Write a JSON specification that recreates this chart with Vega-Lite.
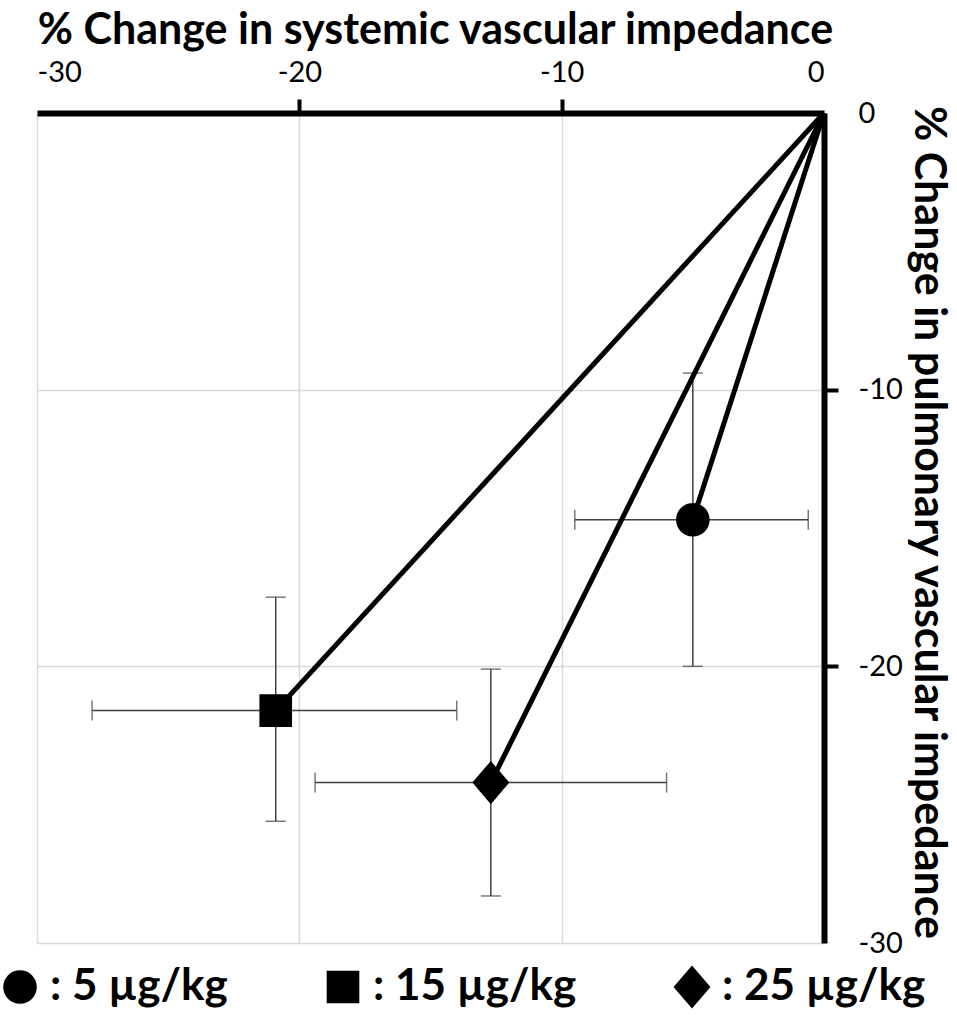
{
  "$schema": "https://vega.github.io/schema/vega-lite/v6.json",
  "width": 787,
  "height": 830,
  "autosize": {"type": "none"},
  "padding": {"left": 37, "top": 113, "right": 133, "bottom": 73},
  "background": "white",
  "datasets": {
    "points": [
      {"dose": "5 µg/kg", "x": -5.0, "y": -14.7, "xlo": -9.5, "xhi": -0.6, "ylo": -20.0, "yhi": -9.4},
      {"dose": "15 µg/kg", "x": -20.9, "y": -21.6, "xlo": -27.9, "xhi": -14.0, "ylo": -25.6, "yhi": -17.5},
      {"dose": "25 µg/kg", "x": -12.7, "y": -24.2, "xlo": -19.4, "xhi": -6.0, "ylo": -28.3, "yhi": -20.1}
    ]
  },
  "data": {"name": "points"},
  "layer": [
    {
      "mark": {"type": "errorbar", "ticks": {"size": 20, "thickness": 1.5, "color": "#404040"}, "rule": {"strokeWidth": 1.5, "color": "#404040"}},
      "encoding": {
        "x": {
          "field": "xlo", "type": "quantitative",
          "scale": {"domain": [-30, 0], "nice": false},
          "title": "% Change in systemic vascular impedance",
          "axis": {
            "orient": "top",
            "values": [-30, -20, -10, 0],
            "labelBaseline": "alphabetic",
            "labelPadding": 18,
            "titleX": 398,
            "titleY": -70,
            "titleBaseline": "alphabetic",
            "titleAlign": "center",
            "tickOpacity": {"condition": {"test": "datum.value == -30 || datum.value == 0", "value": 0}, "value": 1}
          }
        },
        "x2": {"field": "xhi"},
        "y": {
          "field": "y", "type": "quantitative",
          "scale": {"domain": [-30, 0], "nice": false},
          "title": "% Change in pulmonary vascular impedance",
          "axis": {
            "orient": "right",
            "values": [0, -10, -20, -30],
            "labelAlign": "left",
            "labelPadding": 20,
            "titleAngle": 90,
            "titleX": 90,
            "titleY": 409,
            "titleBaseline": "alphabetic",
            "titleAlign": "center",
            "tickOpacity": {"condition": {"test": "datum.value == -30 || datum.value == 0", "value": 0}, "value": 1}
          }
        }
      }
    },
    {
      "mark": {"type": "errorbar", "ticks": {"size": 20, "thickness": 1.5, "color": "#404040"}, "rule": {"strokeWidth": 1.5, "color": "#404040"}},
      "encoding": {
        "x": {"field": "x", "type": "quantitative", "title": "% Change in systemic vascular impedance"},
        "y": {"field": "ylo", "type": "quantitative", "title": "% Change in pulmonary vascular impedance"},
        "y2": {"field": "yhi"}
      }
    },
    {
      "mark": {"type": "rule", "color": "black", "strokeWidth": 5},
      "encoding": {
        "x": {"field": "x", "type": "quantitative", "title": "% Change in systemic vascular impedance"},
        "y": {"field": "y", "type": "quantitative", "title": "% Change in pulmonary vascular impedance"},
        "x2": {"datum": 0},
        "y2": {"datum": 0}
      }
    },
    {
      "mark": {"type": "point", "filled": true, "opacity": 1, "color": "black", "size": 2304},
      "encoding": {
        "x": {"field": "x", "type": "quantitative", "title": "% Change in systemic vascular impedance"},
        "y": {"field": "y", "type": "quantitative", "title": "% Change in pulmonary vascular impedance"},
        "shape": {
          "field": "dose", "type": "nominal",
          "scale": {
            "domain": ["5 µg/kg", "15 µg/kg", "25 µg/kg"],
            "range": [
              "M0.7,0A0.7,0.7 0 1,1 -0.7,0A0.7,0.7 0 1,1 0.7,0Z",
              "M-0.68,-0.68L0.68,-0.68L0.68,0.68L-0.68,0.68Z",
              "M-0.77,0L0,-0.9L0.77,0L0,0.9Z"
            ]
          },
          "legend": {
            "orient": "none",
            "legendX": -41,
            "legendY": 850,
            "direction": "horizontal",
            "title": null,
            "labelExpr": "': ' + datum.label",
            "symbolSize": 2304,
            "symbolFillColor": "black",
            "symbolStrokeColor": "black",
            "symbolStrokeWidth": 0,
            "labelFont": "Lato",
            "labelFontWeight": "bold",
            "labelFontSize": 44,
            "labelColor": "black",
            "labelOffset": 6,
            "labelLimit": 400,
            "columnPadding": 91,
            "padding": 0
          }
        }
      }
    }
  ],
  "config": {
    "view": {"stroke": null},
    "font": "Lato",
    "axis": {
      "grid": true,
      "gridColor": "#d9d9d9",
      "gridWidth": 1.5,
      "domainColor": "black",
      "domainWidth": 6,
      "tickColor": "black",
      "tickWidth": 4,
      "tickSize": 14,
      "labelFont": "Lato",
      "labelFontSize": 29,
      "labelColor": "black",
      "labelExpr": "'' + datum.value",
      "titleFont": "Lato",
      "titleFontSize": 43,
      "titleFontWeight": "bold",
      "titleColor": "black"
    }
  }
}
